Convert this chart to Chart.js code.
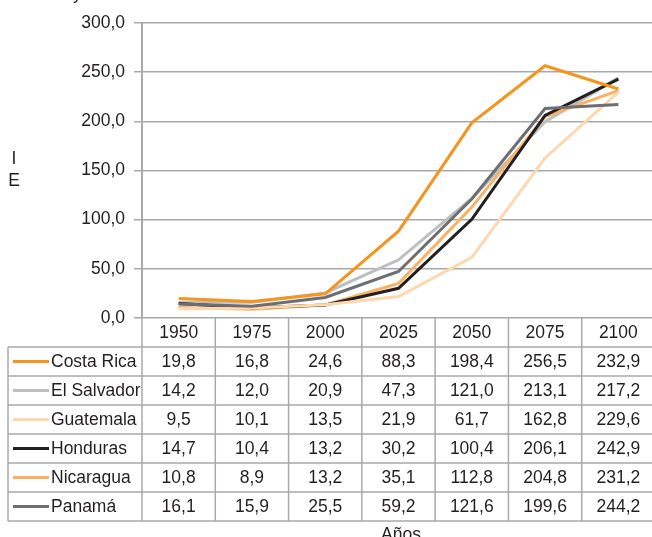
<!DOCTYPE html>
<html>
<head>
<meta charset="utf-8">
<script src="https://cdn.jsdelivr.net/npm/chart.js@4"></script>
<style>
  html, body { margin: 0; padding: 0; background: #fff; overflow: hidden; }
  #wrap { width: 652px; height: 537px; position: relative; overflow: hidden; }
</style>
</head>
<body>
<div id="wrap"><canvas id="chart" width="662" height="537"></canvas></div>
<script>
// data
const years = ['1950', '1975', '2000', '2025', '2050', '2075', '2100'];
const countries = ['Costa Rica', 'El Salvador', 'Guatemala', 'Honduras', 'Nicaragua', 'Panamá'];

const costaRica  = [19.8, 16.8, 24.6, 88.3, 198.4, 256.5, 232.9];
const elSalvador = [14.2, 12.0, 20.9, 47.3, 121.0, 213.1, 217.2];
const guatemala  = [9.5, 10.1, 13.5, 21.9, 61.7, 162.8, 229.6];
const honduras   = [14.7, 10.4, 13.2, 30.2, 100.4, 206.1, 242.9];
const nicaragua  = [10.8, 8.9, 13.2, 35.1, 112.8, 204.8, 231.2];
const panama     = [16.1, 15.9, 25.5, 59.2, 121.6, 199.6, 244.2];

const yTicks = [0, 50, 100, 150, 200, 250, 300];

const series = [costaRica, elSalvador, guatemala, honduras, nicaragua, panama];
// colours in the table legend
const legendColors = ['#f7941d', '#bcbec0', '#fdd7ad', '#231f20', '#fbb164', '#6d6e71'];
// the lines in the picture swap the two greys
const lineColors = ['#f7941d', '#6d6e71', '#fdd7ad', '#231f20', '#fbb164', '#bcbec0'];

const gridColor = '#a7a9ac';
const textColor = '#231f20';
const fontFamily = '"Liberation Sans", Arial, sans-serif';
const fontSize = 17.5;

const fmt = v => v.toFixed(1).replace('.', ',');

// table under the plot, drawn from the x scale
const tablePlugin = {
  id: 'dataTable',
  afterDraw(chart) {
    const ctx = chart.ctx;
    const area = chart.chartArea;
    const x = chart.scales.x;
    const colW = (area.right - area.left) / years.length;
    const headerH = 29;
    const rowH = 29;
    const tableLeft = 8;
    const top = area.bottom;
    const headerBottom = top + headerH;
    const tableBottom = headerBottom + rowH * countries.length;

    ctx.save();
    ctx.strokeStyle = gridColor;
    ctx.lineWidth = 1.5;

    // vertical dividers
    for (let i = 0; i <= years.length; i++) {
      const xx = area.left + i * colW;
      ctx.beginPath();
      ctx.moveTo(xx, top);
      ctx.lineTo(xx, tableBottom);
      ctx.stroke();
    }
    ctx.beginPath();
    ctx.moveTo(tableLeft, headerBottom);
    ctx.lineTo(tableLeft, tableBottom);
    ctx.stroke();

    // horizontal rules
    for (let r = 0; r <= countries.length; r++) {
      const yy = headerBottom + r * rowH;
      ctx.beginPath();
      ctx.moveTo(tableLeft, yy);
      ctx.lineTo(area.right, yy);
      ctx.stroke();
    }

    ctx.fillStyle = textColor;
    ctx.font = fontSize + 'px ' + fontFamily;
    ctx.textBaseline = 'middle';
    ctx.textAlign = 'center';
    years.forEach((yr, i) => {
      ctx.fillText(yr, x.getPixelForValue(i), top + headerH / 2 + 1);
    });

    countries.forEach((name, r) => {
      const cy = headerBottom + r * rowH + rowH / 2 + 1;
      ctx.strokeStyle = legendColors[r];
      ctx.lineWidth = 3;
      ctx.beginPath();
      ctx.moveTo(13, cy - 1);
      ctx.lineTo(49, cy - 1);
      ctx.stroke();
      ctx.textAlign = 'left';
      ctx.fillStyle = textColor;
      ctx.fillText(name, 51, cy);
      ctx.textAlign = 'center';
      series[r].forEach((v, i) => {
        ctx.fillText(fmt(v), x.getPixelForValue(i), cy);
      });
    });

    // axis titles
    ctx.textAlign = 'center';
    ctx.fillText('Años', 401, tableBottom + 14);
    ctx.fillText('I', 14, 159);
    ctx.fillText('E', 14, 181);
    // cut-off title at the top edge
    ctx.textAlign = 'left';
    ctx.textBaseline = 'alphabetic';
    ctx.fillText('y', 73, -1);
    ctx.restore();
  }
};

const ctx = document.getElementById('chart').getContext('2d');
new Chart(ctx, {
  type: 'line',
  data: {
    labels: years,
    datasets: countries.map((name, i) => ({
      label: name,
      data: series[i],
      borderColor: lineColors[i],
      backgroundColor: lineColors[i],
      borderWidth: 3,
      pointRadius: 0,
      tension: 0
    }))
  },
  options: {
    responsive: false,
    animation: false,
    layout: { padding: { top: 23, bottom: 219, left: 0, right: 7 } },
    plugins: {
      legend: { display: false },
      tooltip: { enabled: false }
    },
    scales: {
      x: {
        display: false,
        offset: true
      },
      y: {
        min: 0,
        max: 300,
        afterBuildTicks: scale => { scale.ticks = yTicks.map(v => ({ value: v })); },
        afterFit: scale => { scale.width = 142; },
        ticks: {
          color: textColor,
          font: { family: fontFamily, size: fontSize },
          padding: 9,
          callback: v => fmt(v)
        },
        grid: {
          color: gridColor,
          lineWidth: 1.5,
          tickLength: 8
        },
        border: { color: gridColor, width: 2 }
      }
    }
  },
  plugins: [tablePlugin]
});
</script>
</body>
</html>
